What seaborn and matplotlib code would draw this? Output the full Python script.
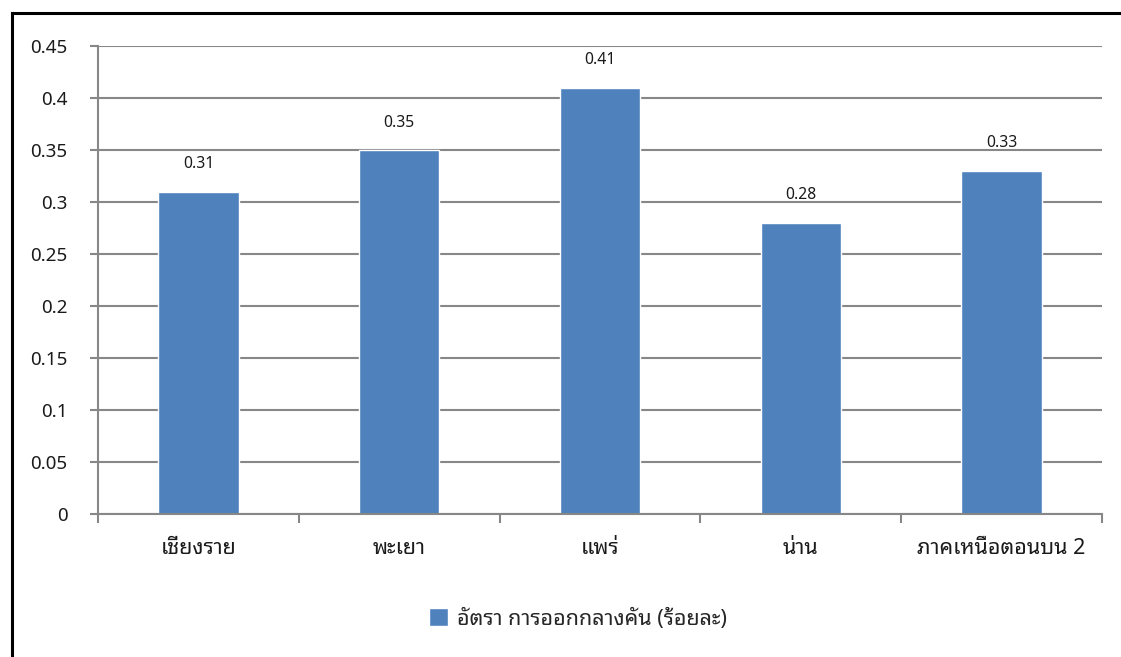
import matplotlib
matplotlib.use("Agg")
import matplotlib.pyplot as plt
from matplotlib.lines import Line2D
import seaborn as sns
import pandas as pd

categories = ["เชียงราย", "พะเยา", "แพร่", "น่าน", "ภาคเหนือตอนบน 2"]
values = [0.31, 0.35, 0.41, 0.28, 0.33]
series_name = "อัตรา การออกกลางคัน (ร้อยละ)"
yticks = [0, 0.05, 0.1, 0.15, 0.2, 0.25, 0.3, 0.35, 0.4, 0.45]
ytick_labels = ["0", "0.05", "0.1", "0.15", "0.2", "0.25", "0.3", "0.35", "0.4", "0.45"]

sns.set_theme(style="white")
FONT = ["Noto Sans Thai Looped", "Noto Sans Thai", "DejaVu Sans"]
plt.rcParams["font.family"] = FONT

BLUE = "#4F81BD"
GRAY = "#878787"
TXT = "#1a1a1a"
W, H = 1121, 657

df = pd.DataFrame({"cat": categories, "val": values})

fig = plt.figure(figsize=(W / 100, H / 100), dpi=100)
ax = fig.add_axes([98 / W, 1 - 514 / H, (1102 - 98) / W, (514 - 46) / H])

sns.barplot(data=df, x="cat", y="val", color=BLUE, saturation=1, width=0.4,
            ax=ax, label=series_name)

ax.set_ylim(0, 0.45)
ax.set_xlim(-0.5, len(categories) - 0.5)
ax.set_yticks(yticks)
ax.set_yticklabels(ytick_labels, fontsize=13.5, color=TXT)
ax.set_xlabel("")
ax.set_ylabel("")

ax.yaxis.grid(True, color=GRAY, linewidth=1.5)
ax.set_axisbelow(True)
ax.xaxis.grid(False)

for s in ["top", "right"]:
    ax.spines[s].set_visible(False)
for s in ["left", "bottom"]:
    ax.spines[s].set_color(GRAY)
    ax.spines[s].set_linewidth(1.5)

ax.tick_params(axis="y", which="major", left=True, length=6, width=1.5,
               color=GRAY, pad=16)
ax.set_xticks(range(len(categories)))
ax.set_xticklabels(categories, fontsize=15.5, color=TXT)
ax.tick_params(axis="x", which="major", bottom=False, length=0, pad=17)
ax.set_xticks([i - 0.5 for i in range(len(categories) + 1)], minor=True)
ax.tick_params(axis="x", which="minor", bottom=True, length=6.5, width=1.5,
               color=GRAY)

for cont in ax.containers:
    ax.bar_label(cont, labels=[f"{v:g}" for v in values], padding=14,
                 fontsize=11.3, color=TXT)

handles, labels = ax.get_legend_handles_labels()
if ax.legend_ is not None:
    ax.legend_.remove()
fig.legend(handles[:1], [series_name], loc="center",
           bbox_to_anchor=(578 / W, 1 - 619 / H), frameon=False,
           fontsize=15.5, handlelength=0.9, handleheight=0.9,
           handletextpad=0.4)

# outer frame (black border, partially clipped by the image edge)
cx, cy = 11.5 / W, 1 - 12.5 / H
fig.add_artist(Line2D([cx, cx], [0, cy], color="black", linewidth=2.2,
                      solid_capstyle="projecting", transform=fig.transFigure))
fig.add_artist(Line2D([cx, 1], [cy, cy], color="black", linewidth=2.2,
                      solid_capstyle="projecting", transform=fig.transFigure))

fig.savefig("out.png", dpi=100)
